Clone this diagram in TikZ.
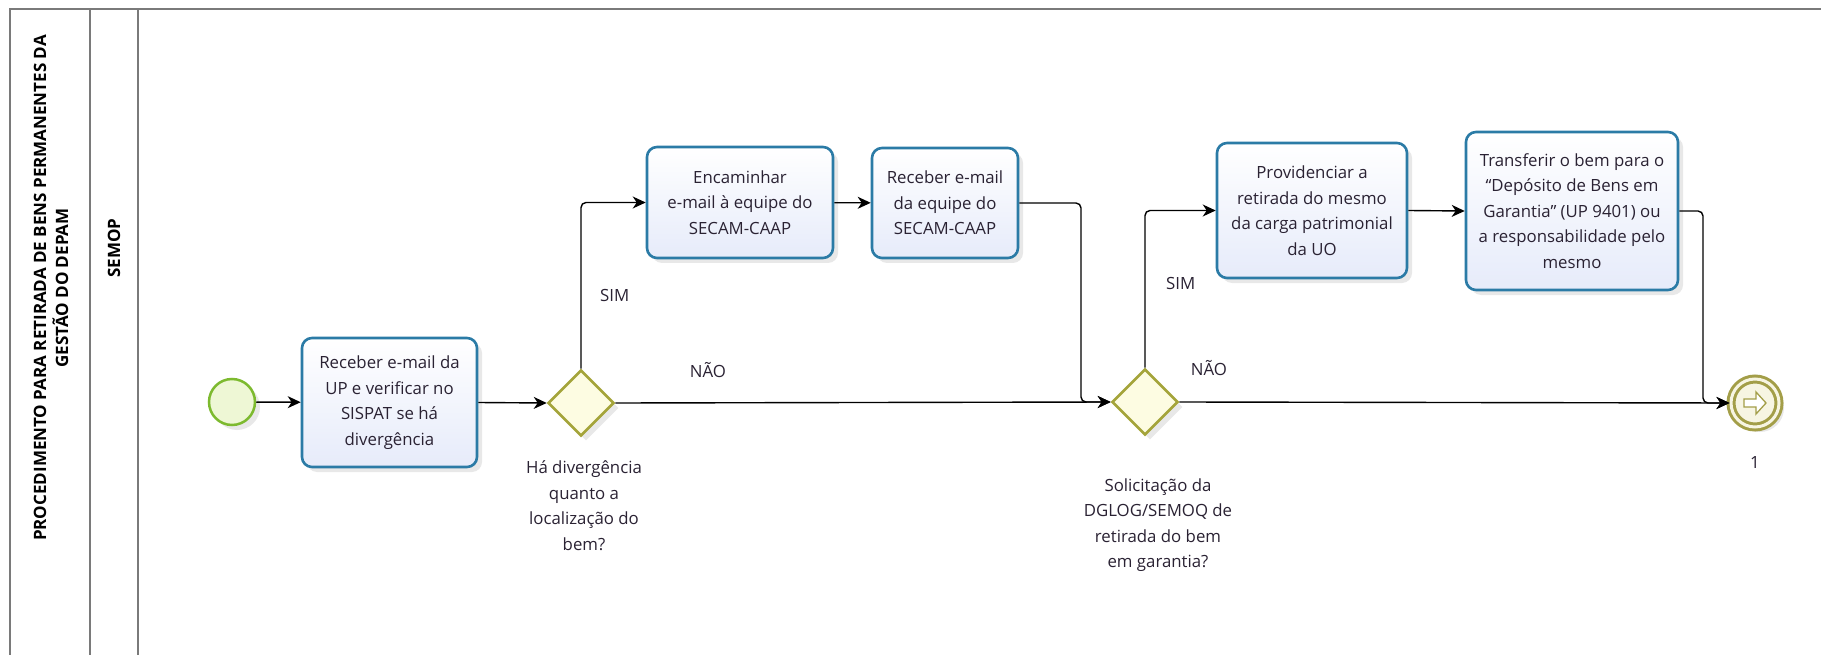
\documentclass[tikz,border=0pt]{standalone}
\usepackage{fontspec}
\setmainfont{Open Sans}
\usetikzlibrary{shapes.geometric,arrows.meta,shadows,calc}
\definecolor{taskborder}{HTML}{2B7BA6}
\definecolor{taskfill}{HTML}{E6EBFA}
\definecolor{gwborder}{HTML}{A4A43A}
\definecolor{gwfill}{HTML}{FDFCE2}
\definecolor{startborder}{HTML}{7DBA2F}
\definecolor{startfill}{HTML}{EEF7D5}
\definecolor{endborder}{HTML}{A39E48}
\definecolor{endfill}{HTML}{F7F5E2}
\definecolor{txt}{HTML}{2A2233}
\definecolor{frameline}{HTML}{7A7A7A}
\begin{document}
\begin{tikzpicture}[x=1pt,y=-1pt,
  shadowed/.style={drop shadow={opacity=0.18, shadow xshift=5pt, shadow yshift=-5pt}},
  task/.style={shadowed, draw=taskborder, line width=2.6pt, rounded corners=10pt,
    top color=white, bottom color=taskfill, align=center, text=txt, inner sep=2pt,
    font=\fontsize{16.8}{25.5}\selectfont},
  gateway/.style={shadowed, diamond, aspect=1, draw=gwborder, fill=gwfill, line width=2.6pt,
    minimum width=66pt, minimum height=66pt, inner sep=0pt},
  startev/.style={shadowed, circle, draw=startborder, fill=startfill, line width=2.5pt,
    minimum size=46pt, inner sep=0pt},
  endev/.style={shadowed, circle, draw=endborder, fill=endfill, line width=3pt,
    minimum size=48pt, inner sep=0pt, double=endfill, double distance=3pt},
  lbl/.style={text=txt, align=center, font=\fontsize{16.8}{25.5}\selectfont, inner sep=0pt},
  flow/.style={draw=black, line width=1.4pt, rounded corners=5pt,
    -{Stealth[length=13pt,width=12pt,inset=4pt]}},
  lane/.style={draw=frameline, line width=2.4pt},
  lanetitle/.style={rotate=90, align=center, text=black, font=\bfseries\fontsize{17}{22}\selectfont}
]
\useasboundingbox (0,0) rectangle (1821,655);
% frame
\coordinate (fTL) at (10,9);
\coordinate (fTR) at (1821,9);
\coordinate (fBL) at (10,655);
\coordinate (d1T) at (90,9);
\coordinate (d1B) at (90,655);
\coordinate (d2T) at (138,9);
\coordinate (d2B) at (138,655);
\draw[lane] (fBL) -- (fTL) -- (fTR);
\draw[lane] (d1T) -- (d1B);
\draw[lane] (d2T) -- (d2B);
\node[lanetitle] (pool) at (51,288) {PROCEDIMENTO PARA RETIRADA DE BENS PERMANENTES DA\\GESTÃO DO DEPAM};
\node[lanetitle] (semop) at (114,248) {SEMOP};

% nodes
\node[startev] (start) at (232,402) {};
\node[task, minimum width=175pt, minimum height=129pt] (t1) at (389.5,402.5)
  {Receber e-mail da\\UP e verificar no\\SISPAT se há\\divergência};
\node[gateway] (gw1) at (581,403) {};
\node[lbl] (gw1l) at (584,505.5) {Há divergência\\quanto a\\localização do\\bem?};
\node[task, minimum width=186pt, minimum height=111pt] (t2) at (740,202.5)
  {Encaminhar\\e-mail à equipe do\\SECAM-CAAP};
\node[task, minimum width=146pt, minimum height=110pt] (t3) at (945,203)
  {Receber e-mail\\da equipe do\\SECAM-CAAP};
\node[gateway] (gw2) at (1145,402) {};
\node[lbl] (gw2l) at (1158,525) {Solicitação da\\DGLOG/SEMOQ de\\retirada do bem\\em garantia?};
\node[task, minimum width=190pt, minimum height=135pt] (t4) at (1312,210.5)
  {Providenciar a\\retirada do mesmo\\da carga patrimonial\\da UO};
\node[task, minimum width=212pt, minimum height=158pt] (t5) at (1572,211)
  {Transferir o bem para o\\“Depósito de Bens em\\Garantia” (UP 9401) ou\\a responsabilidade pelo\\mesmo};
\node[endev] (endev) at (1755,403) {};
\draw[endborder, line width=1.3pt, fill=white, shift={(endev.center)}]
  (-11,-4) -- (1,-4) -- (1,-11) -- (11,0) -- (1,11) -- (1,4) -- (-11,4) -- cycle;
\node[lbl] (endl) at (1755,463) {1};

% labels
\node[lbl, anchor=west] (sim1) at (600,295) {SIM};
\node[lbl] (nao1) at (708,370) {NÃO};
\node[lbl, anchor=west] (sim2) at (1166,283) {SIM};
\node[lbl] (nao2) at (1209,368) {NÃO};

% connectors
\coordinate (k1) at (1081,402);
\coordinate (k2) at (1703,403);
\draw[flow] (start) -- (t1);
\draw[flow] (t1.east) -- (gw1.west);
\draw[flow] (gw1.north) |- (t2.west);
\draw[flow] (t2) -- (t3);
\draw[flow] (t3.east) -| (k1) -- (gw2.west);
\draw[flow] (gw1.east) -- (gw2.west);
\draw[flow] (gw2.north) |- (t4.west);
\draw[flow] (t4.east) -- (t5.west);
\draw[flow] (t5.east) -| (k2) -- (endev.west);
\draw[flow] (gw2.east) -- (endev.west);
\end{tikzpicture}
\end{document}
